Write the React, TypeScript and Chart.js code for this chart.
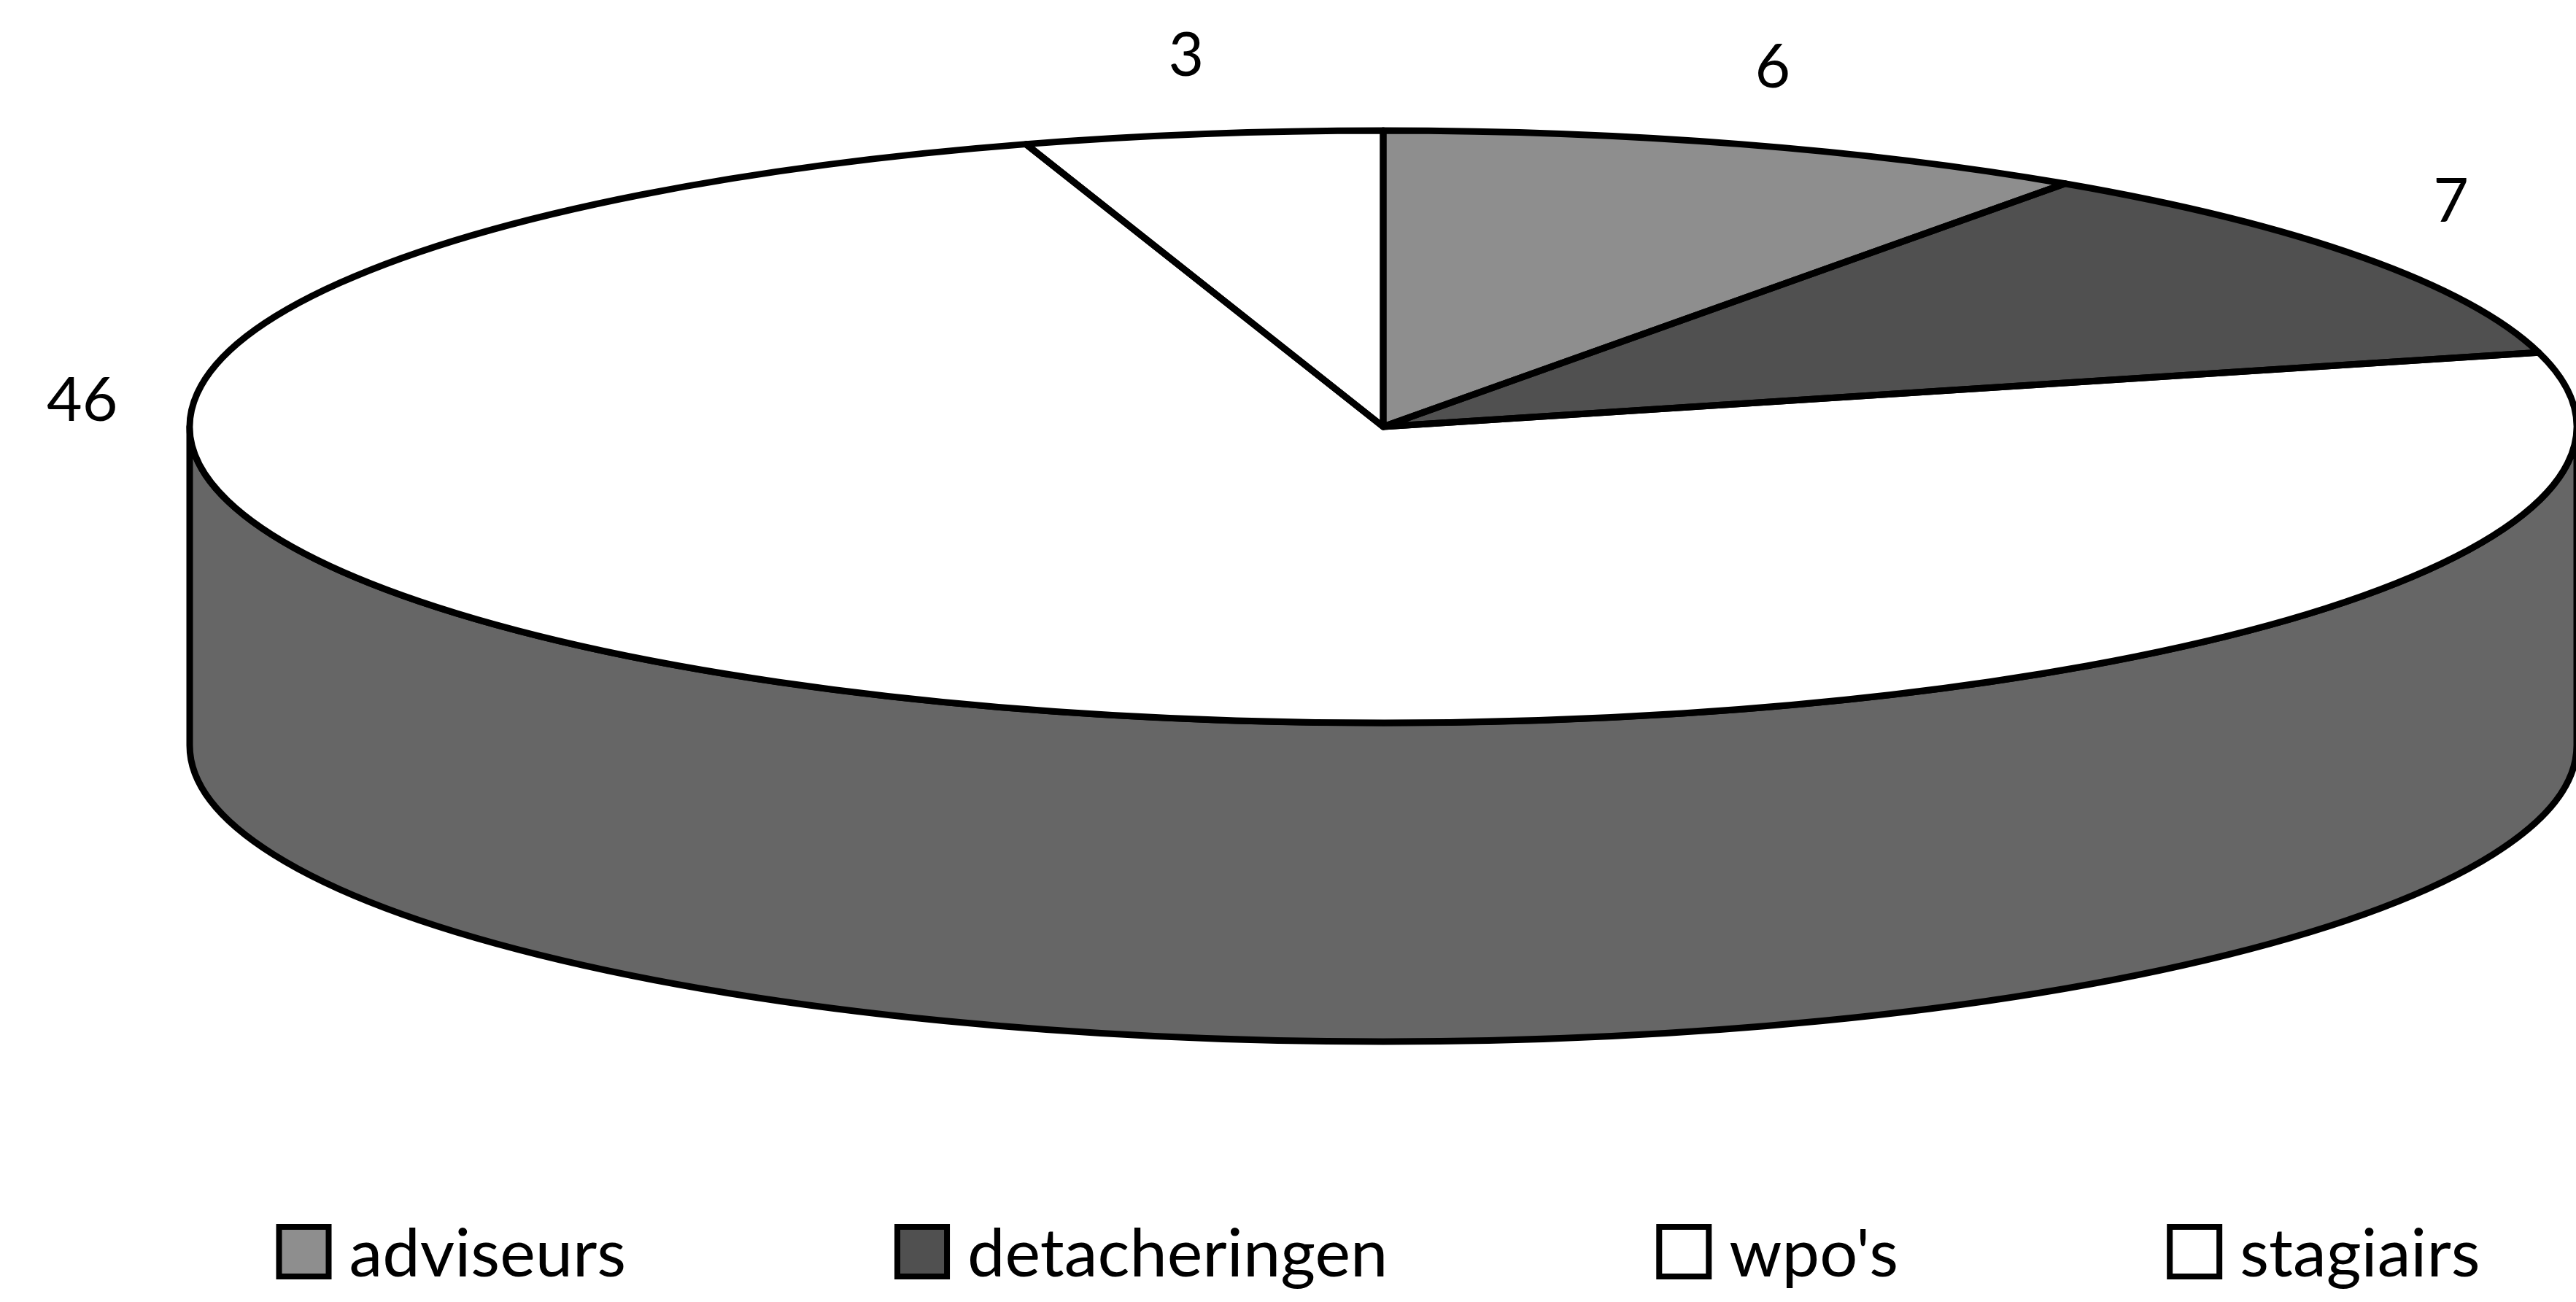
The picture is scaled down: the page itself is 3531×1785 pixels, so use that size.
import React, { useEffect, useRef } from "react";
import { Chart, registerables } from "chart.js";

Chart.register(...registerables);

// ---- data ----
const categories = ["adviseurs", "detacheringen", "wpo's", "stagiairs"];
const values = [6, 7, 46, 3];

// ---- styles ----
const TOP_COLORS = ["#8e8e8e", "#505050", "#ffffff", "#ffffff"];
const SIDE_COLORS = ["#7a7a7a", "#404040", "#666666", "#666666"];
const FONT = "Lato, 'Open Sans', sans-serif";

// ---- geometry (layout) ----
const CX = 1896;
const CY = 585;
const RX = 1636;
const TILT = 406 / 1636;
const DEPTH = 437;
const LINE = 9;
const NUM_SIZE = 84;
const LEG_SIZE = 92;

const pie3d = {
  id: "pie3d",
  beforeDatasetsDraw(chart: any) {
    const ctx: CanvasRenderingContext2D = chart.ctx;
    const arcs = chart.getDatasetMeta(0).data;
    if (!arcs.length) return;
    const { x: cx, y: cy, outerRadius: r } = arcs[0].getProps(["x", "y", "outerRadius"], true);
    const ry = r * TILT;
    ctx.save();
    ctx.lineWidth = LINE;
    ctx.strokeStyle = "#000";
    ctx.lineJoin = "round";
    arcs.forEach((arc: any, i: number) => {
      const { startAngle, endAngle } = arc.getProps(["startAngle", "endAngle"], true);
      for (const base of [-2 * Math.PI, 0, 2 * Math.PI]) {
        const s = Math.max(startAngle, base);
        const e = Math.min(endAngle, base + Math.PI);
        if (e <= s) continue;
        ctx.beginPath();
        ctx.ellipse(cx, cy, r, ry, 0, s, e);
        ctx.lineTo(cx + r * Math.cos(e), cy + ry * Math.sin(e) + DEPTH);
        ctx.ellipse(cx, cy + DEPTH, r, ry, 0, e, s, true);
        ctx.closePath();
        ctx.fillStyle = SIDE_COLORS[i];
        ctx.fill();
        ctx.stroke();
      }
    });
    ctx.restore();
    ctx.save();
    ctx.translate(cx, cy);
    ctx.scale(1, TILT);
    ctx.translate(-cx, -cy);
  },
  afterDatasetsDraw(chart: any) {
    const ctx: CanvasRenderingContext2D = chart.ctx;
    ctx.restore();
    const arcs = chart.getDatasetMeta(0).data;
    if (!arcs.length) return;
    const { x: cx, y: cy, outerRadius: r } = arcs[0].getProps(["x", "y", "outerRadius"], true);
    const ry = r * TILT;
    ctx.save();
    ctx.lineWidth = LINE;
    ctx.strokeStyle = "#000";
    ctx.lineJoin = "round";
    arcs.forEach((arc: any) => {
      const { startAngle, endAngle } = arc.getProps(["startAngle", "endAngle"], true);
      ctx.beginPath();
      ctx.moveTo(cx, cy);
      ctx.ellipse(cx, cy, r, ry, 0, startAngle, endAngle);
      ctx.closePath();
      ctx.stroke();
    });
    // value labels
    ctx.fillStyle = "#000";
    ctx.font = `${NUM_SIZE}px ${FONT}`;
    ctx.textAlign = "center";
    ctx.textBaseline = "alphabetic";
    arcs.forEach((arc: any, i: number) => {
      const { startAngle, endAngle } = arc.getProps(["startAngle", "endAngle"], true);
      let a = (startAngle + endAngle) / 2;
      a = ((a % (2 * Math.PI)) + 2 * Math.PI) % (2 * Math.PI);
      if (a > 0 && a < Math.PI) a = a < Math.PI / 2 ? 0 : Math.PI;
      const x = cx + r * 1.09 * Math.cos(a);
      const y = cy + ry * 1.18 * Math.sin(a) - 38;
      ctx.fillText(String(chart.data.datasets[0].data[i]), x, y + NUM_SIZE * 0.36);
    });
    ctx.restore();
  },
  afterDraw(chart: any) {
    const ctx: CanvasRenderingContext2D = chart.ctx;
    const labels: string[] = chart.data.labels;
    const colors: string[] = chart.data.datasets[0].backgroundColor;
    const box = 68;
    const gapBT = 28;
    const gapItems = 372;
    const baseline = 1750;
    const legendCenter = 1891;
    ctx.save();
    ctx.font = `${LEG_SIZE}px ${FONT}`;
    ctx.textAlign = "left";
    ctx.textBaseline = "alphabetic";
    const widths = labels.map((l) => ctx.measureText(l).width);
    const total = widths.reduce((s, w) => s + box + gapBT + w, 0) + gapItems * (labels.length - 1);
    let x = legendCenter - total / 2;
    labels.forEach((l, i) => {
      ctx.fillStyle = colors[i];
      ctx.fillRect(x, baseline - box, box, box);
      ctx.lineWidth = 8;
      ctx.strokeStyle = "#000";
      ctx.strokeRect(x, baseline - box, box, box);
      ctx.fillStyle = "#000";
      ctx.fillText(l, x + box + gapBT, baseline);
      x += box + gapBT + widths[i] + gapItems;
    });
    ctx.restore();
  },
};

export default function App() {
  const ref = useRef<HTMLCanvasElement>(null);
  useEffect(() => {
    document.body.style.margin = "0";
    const W = window.innerWidth;
    const H = window.innerHeight;
    const chart = new Chart(ref.current!, {
      type: "pie",
      data: {
        labels: categories,
        datasets: [
          {
            data: values,
            backgroundColor: TOP_COLORS,
            borderWidth: 0,
            radius: RX,
            clip: false,
          } as any,
        ],
      },
      options: {
        animation: false,
        responsive: true,
        maintainAspectRatio: false,
        events: [],
        layout: {
          padding: {
            left: Math.max(0, 2 * CX - W),
            right: Math.max(0, W - 2 * CX),
            top: Math.max(0, 2 * CY - H),
            bottom: Math.max(0, H - 2 * CY),
          },
        },
        plugins: { legend: { display: false }, tooltip: { enabled: false } },
      },
      plugins: [pie3d],
    });
    return () => chart.destroy();
  }, []);
  return (
    <div style={{ position: "fixed", left: 0, top: 0, width: "100vw", height: "100vh", background: "#fff" }}>
      <canvas ref={ref} />
    </div>
  );
}
